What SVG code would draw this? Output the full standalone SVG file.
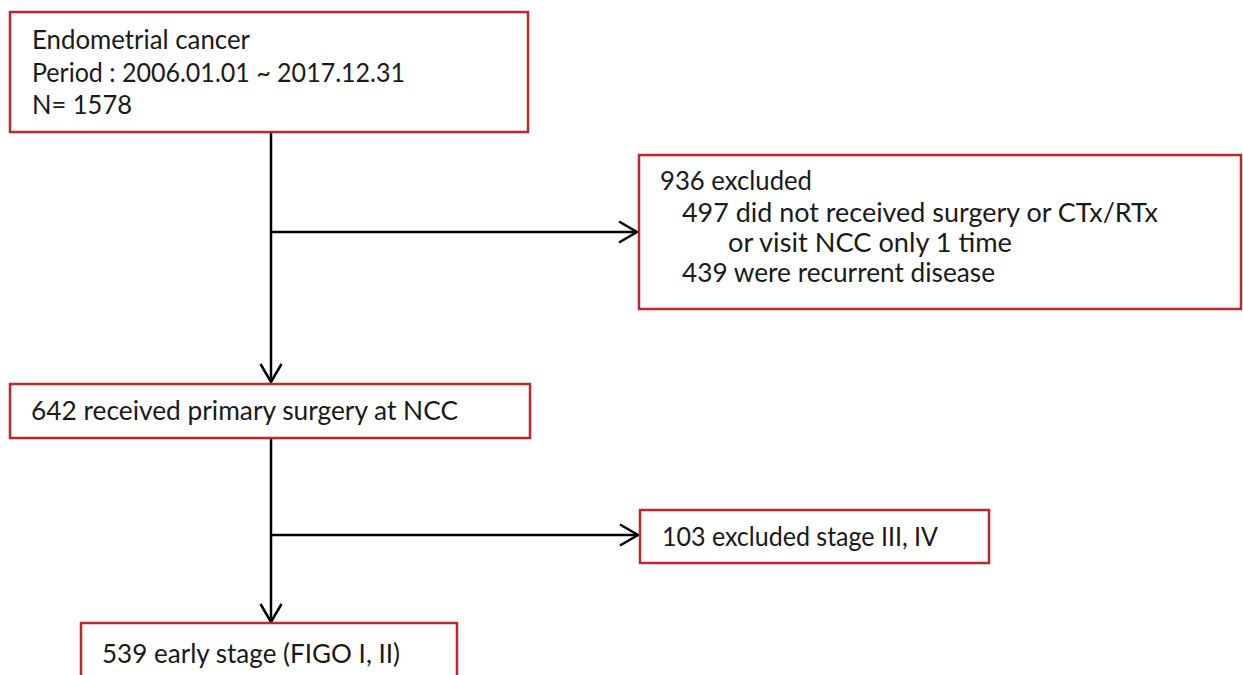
<svg xmlns="http://www.w3.org/2000/svg" width="1243" height="675" viewBox="0 0 1243 675">
<style>
.box{fill:#ffffff;stroke:#c0272d;stroke-width:2.5}
.t{font-family:Lato,"Open Sans","Liberation Sans",sans-serif;font-size:26.5px;fill:#1a1a1a}
.c{stroke:#000000;stroke-width:2.5;fill:none}
</style>
<defs>
<marker id="arr" markerUnits="userSpaceOnUse" markerWidth="24" markerHeight="26" refX="19" refY="12" orient="auto" viewBox="0 0 24 26">
<path d="M1,1.5 L19,12 L1,22.5" fill="none" stroke="#000000" stroke-width="2.5"/>
</marker>
</defs>
<rect width="1243" height="675" fill="#ffffff"/>
<g id="connectors">
<line class="c" x1="271" y1="132" x2="271" y2="382" marker-end="url(#arr)"/>
<line class="c" x1="271" y1="232" x2="637" y2="232" marker-end="url(#arr)"/>
<line class="c" x1="271" y1="438" x2="271" y2="622" marker-end="url(#arr)"/>
<line class="c" x1="271" y1="535" x2="638" y2="535" marker-end="url(#arr)"/>
</g>
<g id="node-start">
<rect class="box" x="10" y="12" width="518" height="120"/>
<text class="t" x="32" y="49" textLength="218" lengthAdjust="spacingAndGlyphs">Endometrial cancer</text>
<text class="t" x="32" y="82" textLength="373" lengthAdjust="spacingAndGlyphs">Period : 2006.01.01 ~ 2017.12.31</text>
<text class="t" x="32" y="114" textLength="100" lengthAdjust="spacingAndGlyphs">N= 1578</text>
</g>
<g id="node-excluded1">
<rect class="box" x="639" y="155" width="602" height="154"/>
<text class="t" x="660" y="190" textLength="152" lengthAdjust="spacingAndGlyphs">936 excluded</text>
<text class="t" x="682" y="222" textLength="476" lengthAdjust="spacingAndGlyphs">497 did not received surgery or CTx/RTx</text>
<text class="t" x="728" y="252" textLength="284" lengthAdjust="spacingAndGlyphs">or visit NCC only 1 time</text>
<text class="t" x="682" y="282" textLength="313" lengthAdjust="spacingAndGlyphs">439 were recurrent disease</text>
</g>
<g id="node-surgery">
<rect class="box" x="10" y="384" width="520" height="54"/>
<text class="t" x="31" y="420" textLength="427" lengthAdjust="spacingAndGlyphs">642 received primary surgery at NCC</text>
</g>
<g id="node-excluded2">
<rect class="box" x="640" y="510" width="349" height="53"/>
<text class="t" x="662" y="546" textLength="276" lengthAdjust="spacingAndGlyphs">103 excluded stage III, IV</text>
</g>
<g id="node-early">
<rect class="box" x="81" y="623" width="376" height="70"/>
<text class="t" x="102" y="663" textLength="298" lengthAdjust="spacingAndGlyphs">539 early stage (FIGO I, II)</text>
</g>
</svg>
